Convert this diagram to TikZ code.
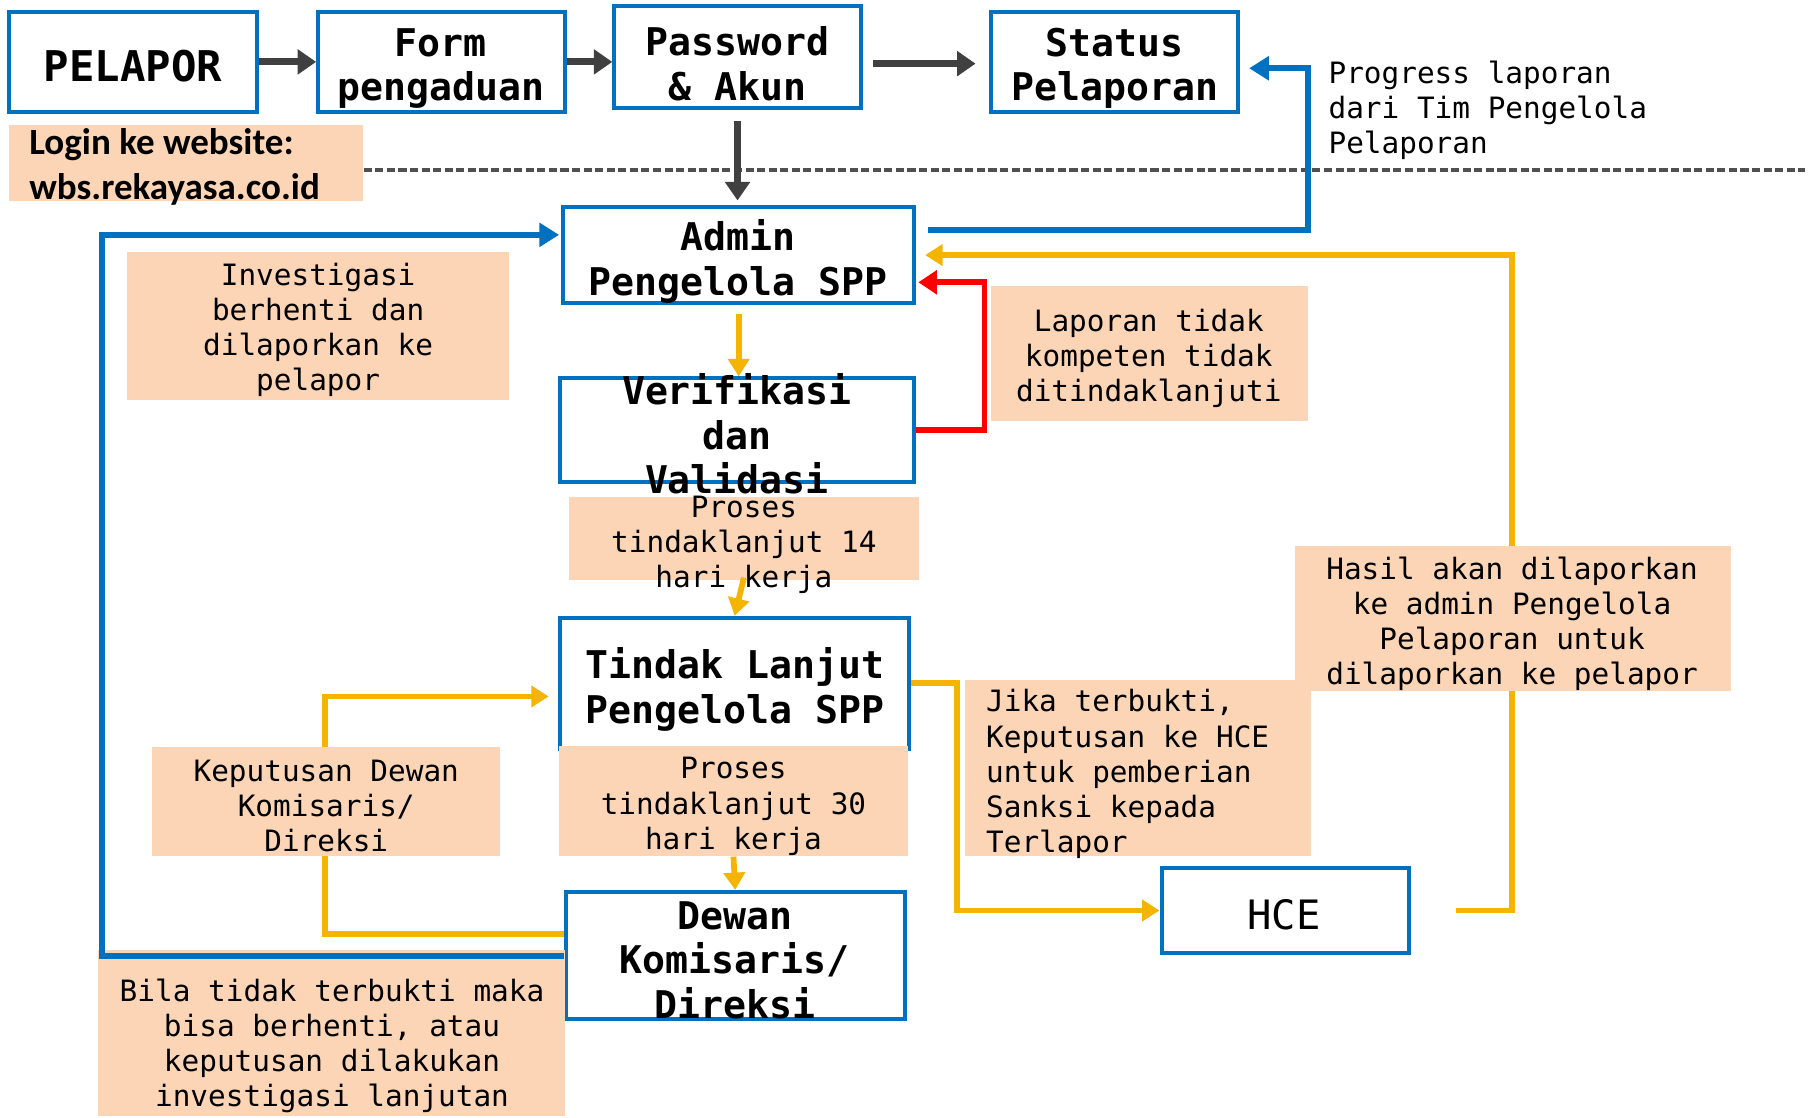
\documentclass[tikz,border=0pt]{standalone}
\usepackage{fontspec}
\usetikzlibrary{arrows.meta}
\newfontfamily\monofont{DejaVu Sans Mono}
\newfontfamily\loginfont{Carlito}
\definecolor{bblue}{HTML}{0070C0}
\definecolor{gold}{HTML}{F5B400}
\definecolor{peach}{HTML}{FBD5B5}
\definecolor{dgray}{HTML}{404040}
\definecolor{dashgray}{HTML}{505050}
\pgfdeclarelayer{back}
\pgfsetlayers{back,main}
\tikzset{
  box/.style={draw=bblue, line width=1.75pt, fill=white, inner sep=0pt},
  lbl/.style={fill=peach, inner sep=0pt},
  btxt/.style={font=\monofont\bfseries\fontsize{16.5}{19.15}\selectfont, align=center, inner sep=0pt},
  ltxt/.style={font=\monofont\fontsize{12.7}{15.15}\selectfont, align=center, inner sep=0pt},
  garrow/.style={draw=dgray, line width=3pt, -{Triangle[length=8pt,width=10.5pt]}},
  barrow/.style={draw=bblue, line width=2.6pt, -{Triangle[length=8.5pt,width=10pt]}},
  rarrow/.style={draw=red, line width=2.5pt, -{Triangle[length=8pt,width=10pt]}},
  yarrow/.style={draw=gold, line width=2.5pt, -{Triangle[length=7.5pt,width=9pt]}},
}
\begin{document}
\begin{tikzpicture}[x=0.5pt,y=-0.5pt]
\useasboundingbox (0,0) rectangle (1568,966);
\begin{pgfonlayer}{back}
\fill[white] (0,0) rectangle (1568,966);
\end{pgfonlayer}

% boxes
\node[box, minimum width=107pt, minimum height=43.5pt] (pel) at (115,53.5) {};
\node[btxt, font=\monofont\bfseries\fontsize{18.3}{20}\selectfont] at (115,57) {PELAPOR};
\node[box, minimum width=106.5pt, minimum height=43.5pt] (form) at (381.5,53.5) {};
\node[btxt] at (381,59) {Form\\pengaduan};
\node[box, minimum width=106.5pt, minimum height=44pt] (pass) at (637.5,49) {};
\node[btxt] at (637.5,55) {Password\\\& Akun};
\node[box, minimum width=106.5pt, minimum height=43.5pt] (stat) at (963.5,53.5) {};
\node[btxt] at (963.5,59) {Status\\Pelaporan};
\node[box, minimum width=151.5pt, minimum height=41.5pt] (admin) at (638.5,220.5) {};
\node[btxt] at (638,226) {Admin\\Pengelola SPP};
\node[box, minimum width=153pt, minimum height=45pt] (ver) at (637,372) {};
\node[btxt] at (637,375) {Verifikasi\\dan\\Validasi};
\node[box, minimum width=151pt, minimum height=56.5pt] (tindak) at (635,590.5) {};
\node[btxt] at (635,596) {Tindak Lanjut\\Pengelola SPP};
\node[box, minimum width=146.5pt, minimum height=55pt] (dewan) at (635.5,826) {};
\node[btxt] at (635,830) {Dewan\\Komisaris/\\Direksi};
\node[box, minimum width=107pt, minimum height=37pt] (hce) at (1111,787) {};
\node[btxt, font=\monofont\fontsize{17.5}{20}\selectfont] at (1110,791) {HCE};

% labels
\node[lbl, minimum width=153pt, minimum height=33pt] (login) at (161,141) {};
\node[anchor=west, align=left, inner sep=0pt, font=\loginfont\bfseries\fontsize{16}{19.5}\selectfont] at (25,144) {Login ke website:\\wbs.rekayasa.co.id};
\node[lbl, minimum width=165pt, minimum height=64pt] (inv) at (275,282) {};
\node[ltxt] at (275,285) {Investigasi\\berhenti dan\\dilaporkan ke\\pelapor};
\node[lbl, minimum width=137pt, minimum height=58.5pt] (lap) at (994,305.5) {};
\node[ltxt] at (993,310) {Laporan tidak\\kompeten tidak\\ditindaklanjuti};
\node[lbl, minimum width=151pt, minimum height=35.5pt] (p14) at (643,465.5) {};
\node[ltxt] at (643,471) {Proses\\tindaklanjut 14\\hari kerja};
\node[lbl, minimum width=188.5pt, minimum height=62.5pt] (hasil) at (1307.5,534.5) {};
\node[ltxt] at (1307,539) {Hasil akan dilaporkan\\ke admin Pengelola\\Pelaporan untuk\\dilaporkan ke pelapor};
\node[lbl, minimum width=149.5pt, minimum height=76pt] (jika) at (983.5,664) {};
\node[ltxt, anchor=west, align=left] at (852,669) {Jika terbukti,\\Keputusan ke HCE\\untuk pemberian\\Sanksi kepada\\Terlapor};
\node[lbl, minimum width=150.5pt, minimum height=47pt] (kep) at (281.5,693) {};
\node[ltxt] at (282,697) {Keputusan Dewan\\Komisaris/\\Direksi};
\node[lbl, minimum width=151pt, minimum height=47.5pt] (p30) at (634,692.5) {};
\node[ltxt] at (634,697) {Proses\\tindaklanjut 30\\hari kerja};
\node[lbl, minimum width=201.5pt, minimum height=72pt] (bila) at (286.5,893) {};
\node[ltxt] at (287,904) {Bila tidak terbukti maka\\bisa berhenti, atau\\keputusan dilakukan\\investigasi lanjutan};
\node[ltxt, anchor=west, align=left] (prog) at (1148,95) {Progress laporan\\dari Tim Pengelola\\Pelaporan};

% connectors behind labels
\begin{pgfonlayer}{back}
\draw[dashgray, line width=1.4pt, dash pattern=on 3.5pt off 1.5pt] ([yshift=-3pt]login.east) -- (1560,147);
\draw[yarrow, shorten >=4pt] ([yshift=9.5pt]dewan.west) -| (281,602) -- ([yshift=-5.75pt]tindak.west);
\draw[yarrow, shorten <=19.5pt, shorten >=4pt] (hce.east) -| (1307,220.5) -- (admin.east);
\end{pgfonlayer}

% connectors
\draw[garrow] (pel.east) -- (form.west);
\draw[garrow] (form.east) -- (form.east -| pass.west);
\draw[garrow, shorten <=4.5pt, shorten >=6pt] ([yshift=-3pt]pass.east) -- ([yshift=-3pt]pass.east -| stat.west);
\draw[garrow, shorten <=5pt, shorten >=2pt] (pass.south) -- (pass.south |- admin.north);
\draw[barrow, shorten <=5pt, shorten >=4pt] ([yshift=11pt]admin.east) -| (1131,59) -- ([yshift=-2.75pt]stat.east);
\draw[barrow, shorten >=1pt] (dewan.west) -| (88,203) -- ([yshift=8.75pt]admin.west);
\draw[rarrow, shorten >=1pt] (ver.east) -| (851,244) -- ([yshift=-11.75pt]admin.east);
\draw[yarrow, shorten <=4pt] (admin.south) -- (admin.south |- ver.north);
\draw[yarrow] ([yshift=1pt]p14.south) -- (tindak.north);
\draw[yarrow] (p30.south) -- (dewan.north);
\draw[yarrow] (tindak.east) -| (827,787) -- (hce.west);
\end{tikzpicture}
\end{document}
